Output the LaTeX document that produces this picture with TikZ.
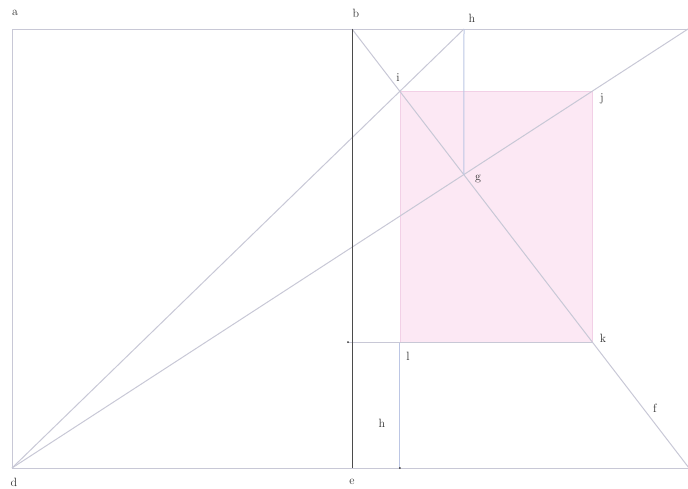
\documentclass[tikz,border=0pt]{standalone}
\usepackage{xcolor}
\usepackage{tikz}
\usetikzlibrary{calc}
\definecolor{guidegray}{RGB}{200,200,214}
\definecolor{guideblue}{RGB}{188,198,228}
\definecolor{pinkfill}{RGB}{252,232,244}
\definecolor{pinkedge}{RGB}{242,208,230}
\definecolor{inkgray}{RGB}{50,50,50}
\definecolor{spinegray}{RGB}{75,75,75}
\tikzset
{
  guide/.style={draw=guidegray,line width=1pt},
  plumb/.style={draw=guideblue,line width=1pt},
  spine/.style={draw=spinegray,line width=1pt},
  golden/.style={draw=pinkedge,fill=pinkfill,line width=0.8pt},
  tag/.style={text=inkgray,inner sep=0pt,font=\fontsize{12}{14}\selectfont},
  tick/.style={fill=inkgray,draw=none}
}

\begin{document}
\begin{tikzpicture}[x=1pt,y=-1pt]
        \useasboundingbox (0,0) rectangle (688,488);

        % Corner points
        \coordinate (a) at (12,29);
        \coordinate (b) at (352,29);
        \coordinate (c) at (688,29);
        \coordinate (d) at (12,468);
        \coordinate (e) at (352,468);
        \coordinate (f) at (689,468);
        \coordinate (h) at (464,29);
        \coordinate (i) at (intersection of d--h and b--f);
        \coordinate (g) at (intersection of d--c and b--f);
        \coordinate (j) at (593,91);
        \coordinate (k) at (592,342);
        \coordinate (l) at (i |- k);
        \coordinate (m) at (348,342);
        \coordinate (n) at (l |- e);

        % Pink rectangle
        \draw[golden] (i) rectangle (k);

        % Frame
        \draw[guide] (c) -- (a) -- (d) -- (688,468);

        % Diagonals
        \draw[guide] (d) -- (h);
        \draw[guide] (d) -- (c);
        \draw[guide] (b) -- (f);

        % Plumb lines
        \draw[plumb] (h) -- (g);
        \draw[plumb] (l) -- (n);
        \draw[guide] (m) -- (k);

        % Dark divider
        \draw[spine] (b) -- (e);

        % Ticks
        \fill[tick] (m) circle (1pt);
        \fill[tick] (n) circle (1pt);

        % Labels
        \node[tag] (la) at (15,13) {a};
        \node[tag] (lb) at (356,13) {b};
        \node[tag] (lh) at (472,18) {h};
        \node[tag] (li) at (398,78) {i};
        \node[tag] (lj) at (602,99) {j};
        \node[tag] (lg) at (478,179) {g};
        \node[tag] (lk) at (603,338) {k};
        \node[tag] (ll) at (408,356) {l};
        \node[tag] (lh2) at (382,423) {h};
        \node[tag] (lf) at (655,408) {f};
        \node[tag] (ld) at (14,482) {d};
        \node[tag] (le) at (352,482) {e};
    \end{tikzpicture}
\end{document}
